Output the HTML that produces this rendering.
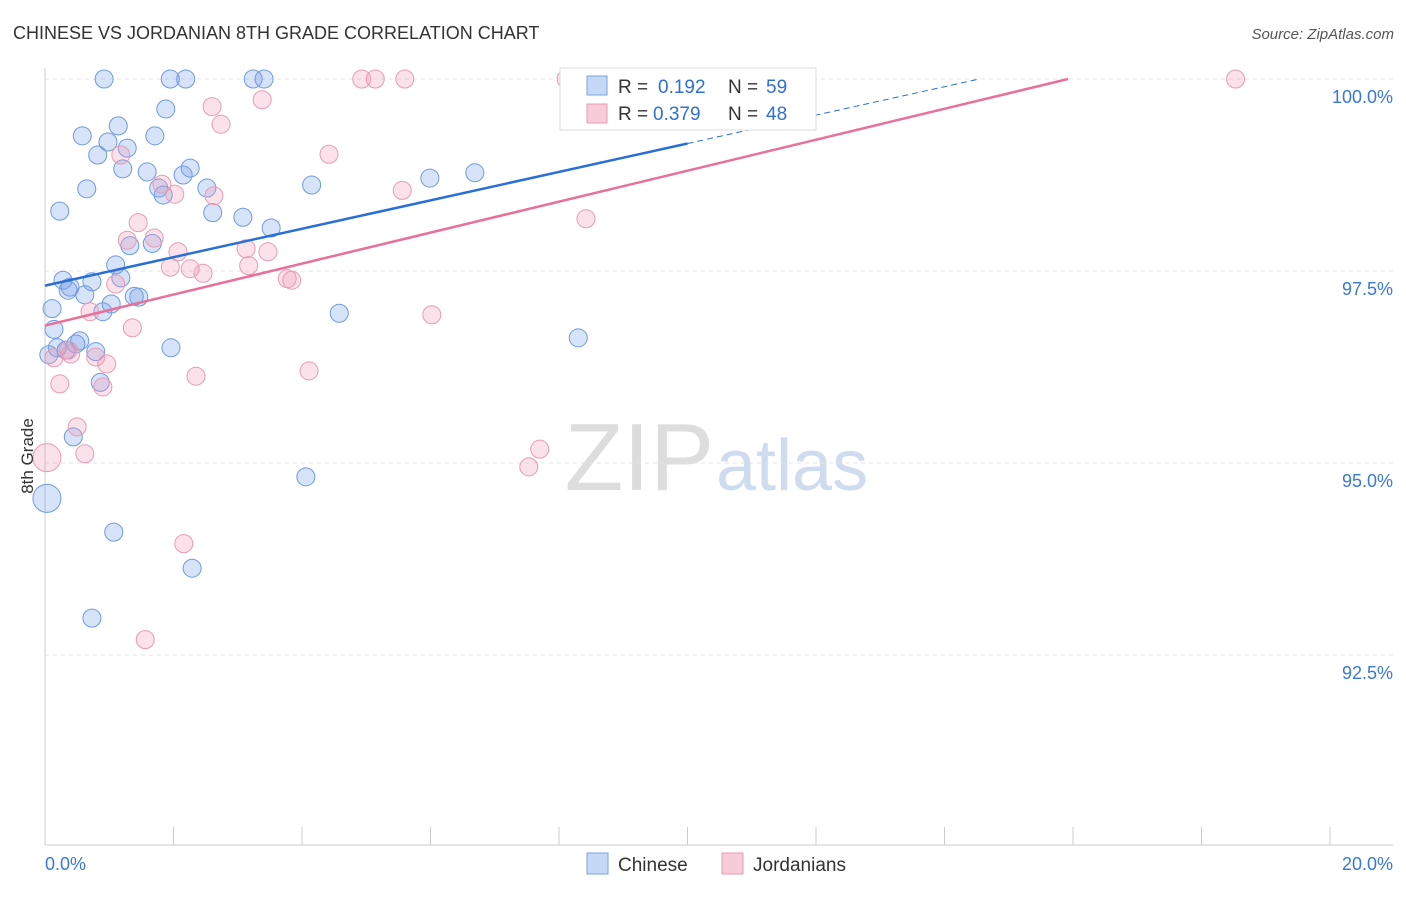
<!DOCTYPE html>
<html><head><meta charset="utf-8"><style>
body{margin:0;background:#fff;font-family:"Liberation Sans",sans-serif}
svg text{font-family:"Liberation Sans",sans-serif}
</style></head><body>
<svg id="c" width="1406" height="892" viewBox="0 0 1406 892">
<text x="13" y="39" font-size="18" fill="#333">CHINESE VS JORDANIAN 8TH GRADE CORRELATION CHART</text>
<text x="1394" y="39" font-size="15" fill="#555" font-style="italic" text-anchor="end">Source: ZipAtlas.com</text>
<text x="714" y="490" font-size="96" fill="#ddd" text-anchor="end" font-family="Liberation Serif">ZIP</text>
<text x="716" y="490" font-size="72" fill="#cfdcf0">atlas</text>
<g id="grid"></g>
<g id="axes"></g>
<g id="pts"></g>
<g id="lines"></g>
<text transform="translate(33,456) rotate(-90)" font-size="17" fill="#333" text-anchor="middle">8th Grade</text>
<g>
<rect x="560" y="68" width="256" height="62" fill="#fff" stroke="#ddd"/>
<rect x="587" y="76" width="20" height="19" fill="#c5d8f5" stroke="#7aa3e0"/>
<rect x="587" y="104" width="20" height="19" fill="#f8cbd9" stroke="#e99ab5"/>
<text x="618" y="93" font-size="19" fill="#333">R =</text>
<text x="658" y="93" font-size="19" fill="#2f6fd6">0.192</text>
<text x="728" y="93" font-size="19" fill="#333">N =</text>
<text x="766" y="93" font-size="19" fill="#2f6fd6">59</text>
<text x="618" y="120" font-size="19" fill="#333">R =</text>
<text x="653" y="120" font-size="19" fill="#2f6fd6">0.379</text>
<text x="728" y="120" font-size="19" fill="#333">N =</text>
<text x="766" y="120" font-size="19" fill="#2f6fd6">48</text>
</g>
<g>
<rect x="587" y="853" width="21" height="21" fill="#c5d8f5" stroke="#7aa3e0"/>
<text x="618" y="871" font-size="19" fill="#333">Chinese</text>
<rect x="722" y="853" width="21" height="21" fill="#f8cbd9" stroke="#e99ab5"/>
<text x="753" y="871" font-size="19" fill="#333">Jordanians</text>
</g>
</svg>
<script>
const yTicks=[100,97.5,95,92.5];
const yTickLabels=["100.0%","97.5%","95.0%","92.5%"];
const xTicks=[0,2,4,6,8,10,12,14,16,18,20];
const blueX=[0.92,1.95,2.19,3.24,3.41,1.88,1.14,0.58,1.71,0.98,1.28,0.82,2.26,1.21,1.59,2.15,5.99,6.69,4.15,0.65,1.77,2.52,1.84,0.23,2.61,3.08,3.52,1.67,1.32,1.10,0.28,0.73,1.18,0.39,0.36,0.62,1.39,1.46,1.03,0.11,0.90,4.58,0.14,8.30,0.54,0.48,0.19,1.96,0.33,0.79,0.06,0.86,0.44,4.06,0.03,1.07,2.29,0.73];
const blueY=[100,100,100,100,100,99.61,99.39,99.26,99.26,99.18,99.10,99.01,98.84,98.83,98.79,98.75,98.71,98.78,98.62,98.57,98.58,98.58,98.49,98.28,98.26,98.20,98.06,97.86,97.83,97.58,97.38,97.36,97.41,97.29,97.25,97.19,97.17,97.16,97.07,97.01,96.97,96.95,96.74,96.63,96.59,96.55,96.50,96.50,96.47,96.45,96.41,96.05,95.34,94.82,94.54,94.10,93.63,92.98];
const pinkX=[4.93,5.14,5.60,8.11,18.53,3.38,2.60,2.74,4.42,1.18,1.82,2.02,2.63,5.56,8.42,1.45,1.28,1.70,2.07,3.13,3.47,1.95,2.26,3.17,2.46,3.77,3.84,1.10,0.70,6.02,1.36,0.14,0.36,0.40,0.79,0.96,2.35,4.11,0.23,0.90,0.50,0.62,7.70,7.53,0.03,2.16,1.56];
const pinkY=[100,100,100,100,100,99.73,99.64,99.41,99.02,99.01,98.63,98.50,98.48,98.55,98.18,98.13,97.90,97.93,97.75,97.79,97.75,97.55,97.53,97.57,97.47,97.40,97.38,97.33,96.97,96.93,96.76,96.37,96.47,96.42,96.38,96.29,96.13,96.20,96.03,95.99,95.47,95.12,95.18,94.95,95.07,93.95,92.70];
const blueFit=[97.31,0.185];
const pinkFit=[96.79,0.2016];
const sx=v=>45+v/20*1285;
const sy=v=>79+(100-v)/2.5*192;
const NS="http://www.w3.org/2000/svg";
function mk(p,t,a){const e=document.createElementNS(NS,t);for(const k in a)e.setAttribute(k,a[k]);p.appendChild(e);return e;}
const grid=document.getElementById('grid'),axes=document.getElementById('axes'),pts=document.getElementById('pts'),lines=document.getElementById('lines');
yTicks.forEach((v,i)=>{
 const l=mk(grid,'line',{x1:45,x2:1393,y1:sy(v),y2:sy(v),stroke:'#e3e3e3','stroke-dasharray':'4,4'});
 
 
 const t=mk(axes,'text',{x:1393,y:sy(v)+24,'font-size':18,fill:'#3a78d8','text-anchor':'end'});
 t.textContent=yTickLabels[i];
 
 
});
const ya=mk(axes,'line',{x1:45,x2:45,y1:68,y2:845,stroke:'#ccc'});


const xa=mk(axes,'line',{x1:45,x2:1393,y1:845,y2:845,stroke:'#ccc'});


xTicks.forEach(v=>{
 const t=mk(axes,'line',{x1:sx(v),x2:sx(v),y1:827,y2:845,stroke:'#ccc'});
 
 
});
const xl0=mk(axes,'text',{x:45,y:870,'font-size':18,fill:'#3a78d8'});xl0.textContent='0.0%';


const xl1=mk(axes,'text',{x:1393,y:870,'font-size':18,fill:'#3a78d8','text-anchor':'end'});xl1.textContent='20.0%';


function dots(X,Y,fill,stroke,name){X.forEach((x,i)=>{
 const big=x<0.05;
 const c=mk(pts,'circle',{cx:sx(x),cy:sy(Y[i]),r:big?14:9,fill:fill,stroke:stroke,'stroke-width':1});
 
 
});}
dots(blueX,blueY,'rgba(110,155,230,0.28)','#6e9be0','chinese-point');
dots(pinkX,pinkY,'rgba(240,150,180,0.28)','#e99ab5','jordanian-point');
const bEnd=(100-blueFit[0])/blueFit[1];
const b1=mk(lines,'line',{x1:sx(0),y1:sy(blueFit[0]),x2:sx(10),y2:sy(blueFit[0]+blueFit[1]*10),stroke:'#2a6fd6','stroke-width':2.5});


const b2=mk(lines,'line',{x1:sx(10),y1:sy(blueFit[0]+blueFit[1]*10),x2:sx(bEnd),y2:sy(100),stroke:'#2a6fd6','stroke-width':1,'stroke-dasharray':'6,4'});


const pEnd=(100-pinkFit[0])/pinkFit[1];
const p1=mk(lines,'line',{x1:sx(0),y1:sy(pinkFit[0]),x2:sx(pEnd),y2:sy(100),stroke:'#e8709a','stroke-width':2.5});


</script>
</body></html>
